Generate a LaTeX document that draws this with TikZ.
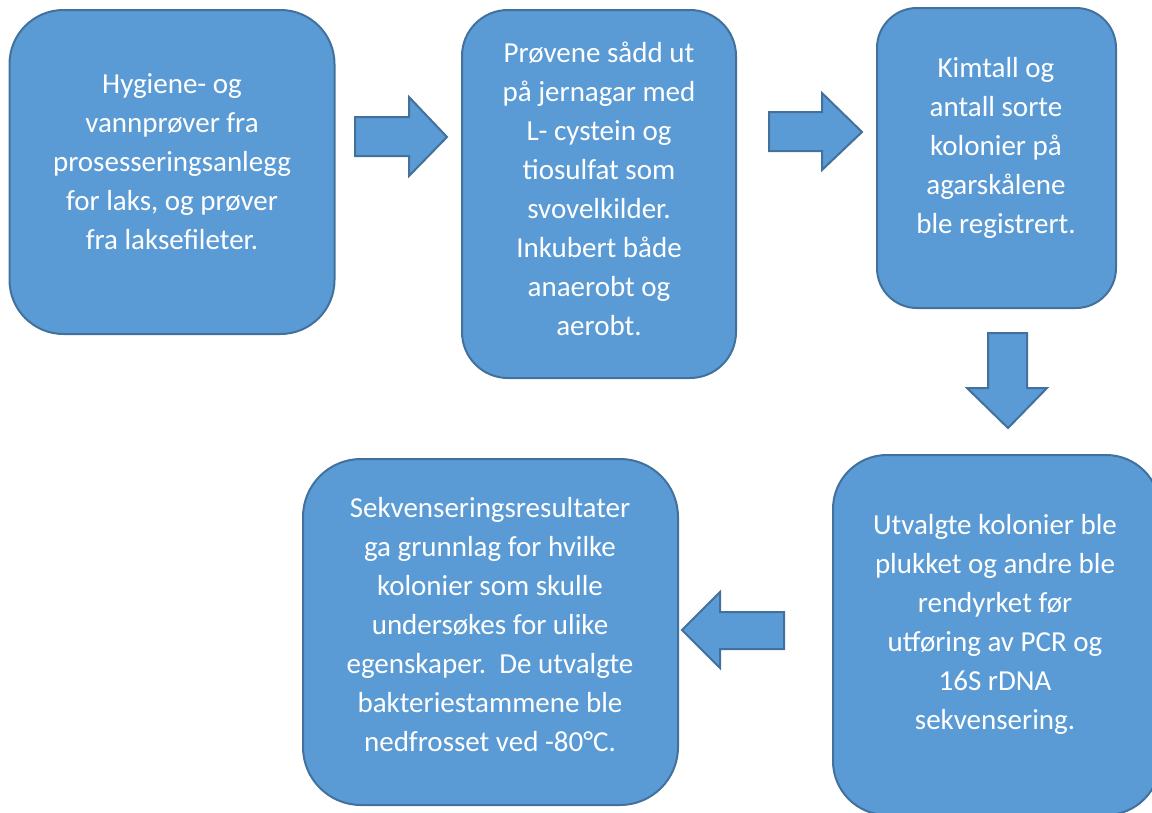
\documentclass[tikz,border=0pt]{standalone}
\usepackage{fontspec}
\setmainfont{Carlito}
\definecolor{boxfill}{HTML}{5B9BD5}
\definecolor{boxline}{HTML}{41719C}
\begin{document}
\begin{tikzpicture}[x=1pt,y=-1pt,
  box/.style={draw=boxline, fill=boxfill, line width=2pt, inner sep=0pt},
  txt/.style={text=white, align=center, inner sep=0pt, font=\fontsize{29}{39}\selectfont},
  blockarrow/.style={draw=boxline, fill=boxfill, line width=2pt, line join=miter}]
\clip (0,0) rectangle (1152,812);
\fill[white] (0,0) rectangle (1152,812);
% boxes
\node[box, rounded corners=54pt, minimum width=325pt, minimum height=324pt] (b1) at (172,172) {};
\node[box, rounded corners=46pt, minimum width=274pt, minimum height=368pt] (b2) at (599,194) {};
\node[box, rounded corners=40pt, minimum width=239pt, minimum height=300pt] (b3) at (996.5,158) {};
\node[box, rounded corners=54pt, minimum width=327pt, minimum height=360pt] (b4) at (996.5,635) {};
\node[box, rounded corners=58pt, minimum width=375pt, minimum height=346pt] (b5) at (490.5,632) {};
% texts
\node[txt] (t1) at (172,162) {Hygiene- og\\vannprøver fra\\prosesseringsanlegg\\for laks, og prøver\\fra laksefileter.};
\node[txt] (t2) at (599,188.5) {Prøvene sådd ut\\på jernagar med\\L- cystein og\\tiosulfat som\\svovelkilder.\\Inkubert både\\anaerobt og\\aerobt.};
\node[txt] (t3) at (996,148) {Kimtall og\\antall sorte\\kolonier på\\agarskålene\\ble registrert.};
\node[txt] (t4) at (995,624.5) {Utvalgte kolonier ble\\plukket og andre ble\\rendyrket før\\utføring av PCR og\\16S rDNA\\sekvensering.};
\node[txt] (t5) at (490,624.5) {Sekvenseringsresultater\\ga grunnlag for hvilke\\kolonier som skulle\\undersøkes for ulike\\egenskaper.\ \ De utvalgte\\bakteriestammene ble\\nedfrosset ved -80°C.};
% block arrows
\draw[blockarrow] (355,117) -- (409,117) -- (409,97) -- (447,137) -- (409,176) -- (409,156) -- (355,156) -- cycle;
\draw[blockarrow] (769,112) -- (822,112) -- (822,93) -- (862,132) -- (822,170) -- (822,151) -- (769,151) -- cycle;
\draw[blockarrow] (988,333) -- (1027,333) -- (1027,388) -- (1047,388) -- (1008,428) -- (967,388) -- (988,388) -- cycle;
\draw[blockarrow] (784,612) -- (720,612) -- (720,592) -- (682,630) -- (720,668) -- (720,649) -- (784,649) -- cycle;
\end{tikzpicture}
\end{document}
